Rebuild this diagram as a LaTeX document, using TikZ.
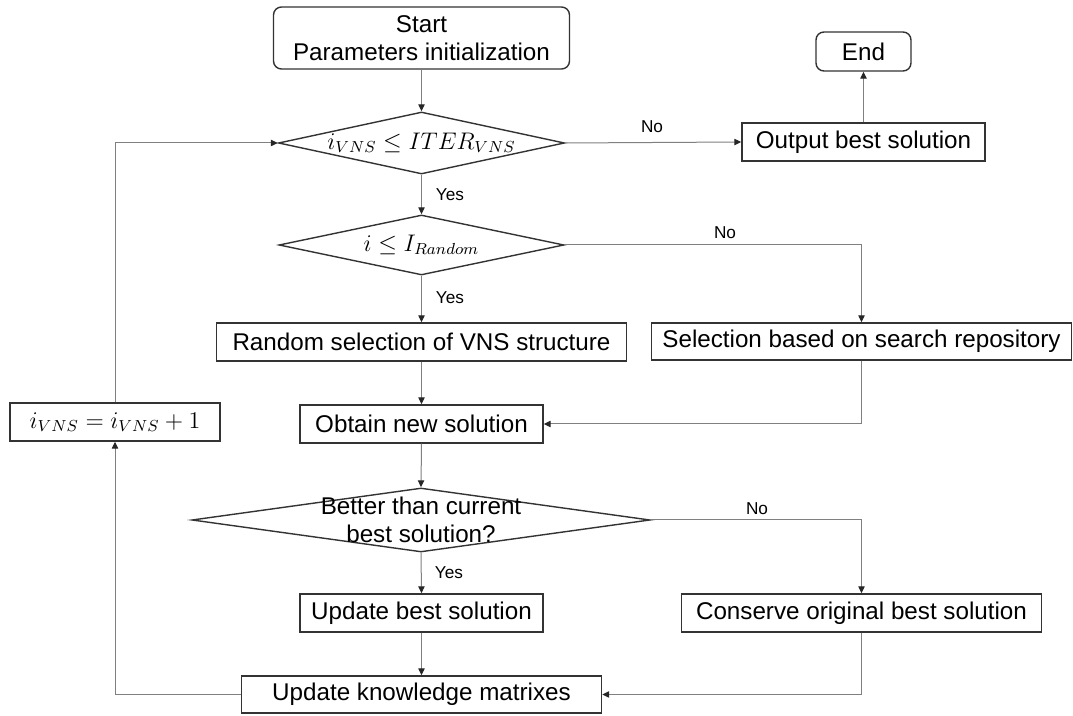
\documentclass[tikz,border=0pt]{standalone}
\usepackage[no-math]{fontspec}
\setmainfont{Liberation Sans}
\usetikzlibrary{shapes.geometric,arrows.meta}
\newcommand\mainsz{\fontsize{12.1}{14}\selectfont}
\newcommand\lblsz{\fontsize{8.6}{10}\selectfont}
\tikzset{
  box/.style={draw=black!80, line width=0.7pt, inner sep=0pt, font=\mainsz, text=black},
  term/.style={box, rounded corners=4pt, align=center},
  dia/.style={box, diamond, aspect=4},
  flow/.style={draw=black!50, line width=0.5pt,
    -{Triangle[length=3.5pt,width=3.2pt,color=black!85]}},
  link/.style={draw=black!50, line width=0.5pt},
  lbl/.style={font=\lblsz, text=black, inner sep=0pt}
}
\begin{document}
\begin{tikzpicture}[x=0.5pt,y=-0.5pt]
\useasboundingbox (0,0) rectangle (1073,716);

% terminals
\node[term, minimum width=148pt, minimum height=31pt] (start) at (421.5,38) {Start\\Parameters initialization};
\node[term, minimum width=47.5pt, minimum height=19.5pt] (end) at (863.5,51.5) {End};

% decisions
\node[dia, minimum width=143pt, minimum height=31pt,
      label={[font=\mainsz]center:$i_{VNS}\le ITER_{VNS}$}] (d1) at (421.5,143) {};
\node[dia, minimum width=142.5pt, minimum height=30pt,
      label={[font=\mainsz]center:$i\le I_{Random}$}] (d2) at (421.5,245) {};
\node[dia, minimum width=229pt, minimum height=32pt,
      label={[font=\mainsz,align=center]center:Better than current\\best solution?}] (d3) at (421,520) {};

% process boxes
\node[box, minimum width=121.5pt, minimum height=19pt] (out) at (863.5,142) {Output best solution};
\node[box, minimum width=205pt, minimum height=19pt] (rnd) at (421.5,342) {Random selection of VNS structure};
\node[box, minimum width=210pt, minimum height=18.5pt] (sel) at (861.5,341.5) {Selection based on search repository};
\node[box, minimum width=105pt, minimum height=19pt] (inc) at (115,422) {$i_{VNS}=i_{VNS}+1$};
\node[box, minimum width=121.5pt, minimum height=19pt] (obt) at (421.5,424) {Obtain new solution};
\node[box, minimum width=121.5pt, minimum height=19pt] (upb) at (421.5,613) {Update best solution};
\node[box, minimum width=180pt, minimum height=19pt] (cons) at (861.5,613) {Conserve original best solution};
\node[box, minimum width=180pt, minimum height=18.5pt] (upk) at (421.5,694.5) {Update knowledge matrixes};

% branch labels
\node[lbl] (no1) at (652,127) {No};
\node[lbl] (yes1) at (450,195) {Yes};
\node[lbl] (no2) at (725,233) {No};
\node[lbl] (yes2) at (450,298) {Yes};
\node[lbl] (no3) at (757,509) {No};
\node[lbl] (yes3) at (449,573) {Yes};

% connectors
\draw[flow] (start.south) -- (d1.north);
\draw[flow] (d1.east) -- (out.west);
\draw[flow] (out.north) -- (end.south);
\draw[flow] (d1.south) -- (d2.north);
\draw[flow] (d2.east) -| (sel.north);
\draw[flow] (d2.south) -- (rnd.north);
\draw[flow] (rnd.south) -- (obt.north);
\draw[flow] (sel.south) |- (obt.east);
\draw[flow] (obt.south) -- (d3.north);
\draw[flow] (d3.east) -| (cons.north);
\draw[flow] (d3.south) -- (upb.north);
\draw[flow] (upb.south) -- (upk.north);
\draw[flow] (cons.south) |- (upk.east);
\draw[flow] (upk.west) -| (inc.south);
\draw[flow] (inc.north) |- (d1.west);
\end{tikzpicture}
\end{document}
